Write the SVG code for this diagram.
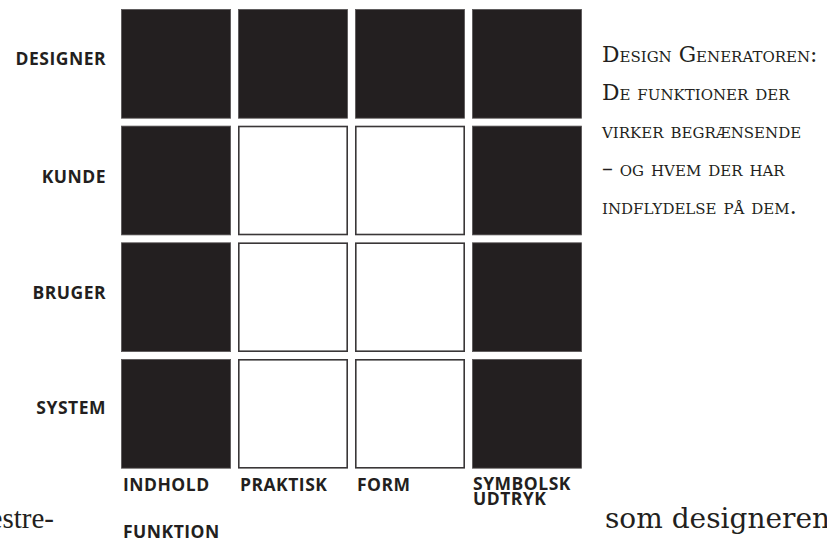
<svg xmlns="http://www.w3.org/2000/svg" width="827" height="542" viewBox="0 0 827 542">
<style>
.blk{fill:#231f20;stroke:#5a5758;stroke-width:0.8}
.wht{fill:#ffffff;stroke:#3a3738;stroke-width:1.6}
.lbl{font-family:"Open Sans","Noto Sans",sans-serif;font-weight:700;font-size:17.5px;letter-spacing:0.5px;fill:#231f20}
.row{text-anchor:end}
.note{font-family:"DejaVu Serif","Liberation Serif",serif;font-size:21.8px;font-variant:small-caps;fill:#231f20}
.body{font-family:"DejaVu Serif","Liberation Serif",serif;font-size:28px;fill:#231f20}
.bodyl{font-family:"Liberation Serif","DejaVu Serif",serif;font-size:29px;fill:#231f20}
</style>
<rect width="827" height="542" fill="#ffffff"/>
<g id="grid">
<g id="r0c0"><rect class="blk" x="121.4" y="9.4" width="109.2" height="108.8"/></g>
<g id="r0c1"><rect class="blk" x="238.4" y="9.4" width="109.2" height="108.8"/></g>
<g id="r0c2"><rect class="blk" x="355.4" y="9.4" width="109.2" height="108.8"/></g>
<g id="r0c3"><rect class="blk" x="472.4" y="9.4" width="109.2" height="108.8"/></g>
<g id="r1c0"><rect class="blk" x="121.4" y="126.1" width="109.2" height="108.8"/></g>
<g id="r1c1"><rect class="wht" x="238.8" y="126.5" width="108.4" height="108"/></g>
<g id="r1c2"><rect class="wht" x="355.8" y="126.5" width="108.4" height="108"/></g>
<g id="r1c3"><rect class="blk" x="472.4" y="126.1" width="109.2" height="108.8"/></g>
<g id="r2c0"><rect class="blk" x="121.4" y="242.8" width="109.2" height="108.8"/></g>
<g id="r2c1"><rect class="wht" x="238.8" y="243.2" width="108.4" height="108"/></g>
<g id="r2c2"><rect class="wht" x="355.8" y="243.2" width="108.4" height="108"/></g>
<g id="r2c3"><rect class="blk" x="472.4" y="242.8" width="109.2" height="108.8"/></g>
<g id="r3c0"><rect class="blk" x="121.4" y="359.4" width="109.2" height="108.8"/></g>
<g id="r3c1"><rect class="wht" x="238.8" y="359.8" width="108.4" height="108"/></g>
<g id="r3c2"><rect class="wht" x="355.8" y="359.8" width="108.4" height="108"/></g>
<g id="r3c3"><rect class="blk" x="472.4" y="359.4" width="109.2" height="108.8"/></g>
</g>
<g id="connectors"/>
<g id="row-labels">
<text class="lbl row" x="106" y="65">DESIGNER</text>
<text class="lbl row" x="106" y="182.5">KUNDE</text>
<text class="lbl row" x="106" y="298.5">BRUGER</text>
<text class="lbl row" x="106" y="413.5">SYSTEM</text>
</g>
<g id="column-labels">
<text class="lbl" x="123" y="491">INDHOLD</text>
<text class="lbl" x="240" y="491">PRAKTISK</text>
<text class="lbl" x="357" y="491">FORM</text>
<text class="lbl" x="473" y="490">SYMBOLSK</text>
<text class="lbl" x="473" y="505">UDTRYK</text>
<text class="lbl" x="123" y="538">FUNKTION</text>
</g>
<g id="caption">
<text class="note" x="602" y="62">Design Generatoren:</text>
<text class="note" x="602" y="100">De funktioner der</text>
<text class="note" x="602" y="138">virker begrænsende</text>
<text class="note" x="602" y="176">– og hvem der har</text>
<text class="note" x="602" y="214">indflydelse på dem.</text>
</g>
<g id="body-text">
<text class="bodyl" x="54" y="528" text-anchor="end">estre-</text>
<text class="body" x="605" y="528">som designeren</text>
</g>
</svg>
